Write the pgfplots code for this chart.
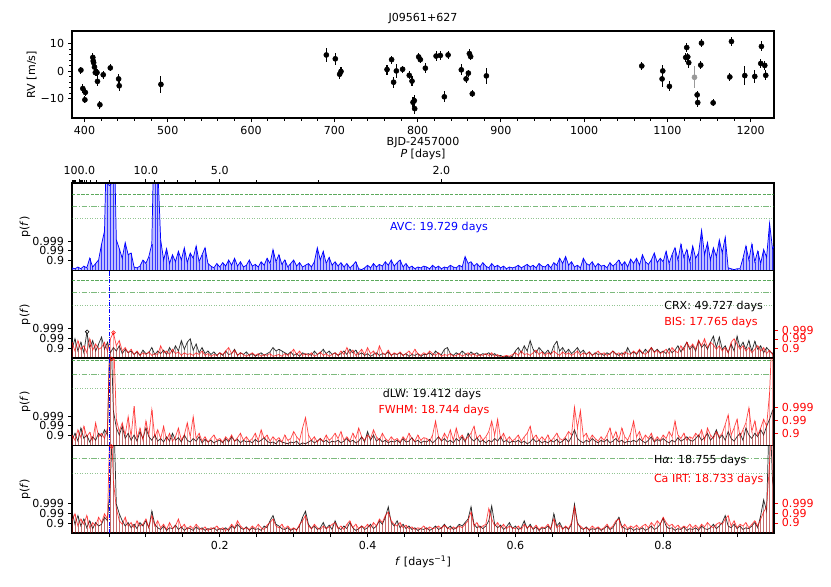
\documentclass[border=0pt]{standalone}
\usepackage{fontspec}
\setmainfont{DejaVu Sans}
\usepackage{pgfplots}
\usepackage{pgfplotstable}
\pgfplotsset{compat=1.18}
\definecolor{fapg}{rgb}{0.15,0.55,0.15}

\pgfplotstableread{
x y e
395.7 0.4 1.3
398.0 -6.3 1.5
401.0 -7.7 1.3
400.5 -10.4 1.3
410.0 5.0 1.5
410.5 3.7 1.3
411.0 3.1 1.3
412.0 1.5 1.3
413.0 -0.5 1.3
415.0 -0.5 1.3
415.6 -3.7 1.8
418.5 -12.2 1.5
422.5 -1.3 1.5
431.0 1.2 1.3
441.0 -2.8 1.8
441.7 -5.3 1.8
491.8 -4.8 3.2
690.4 5.9 2.5
701.2 4.5 2.2
706.4 -1.1 1.8
708.0 -0.1 1.5
763.3 0.6 1.8
768.8 4.2 1.5
771.2 -4.0 2.0
774.5 0.1 2.5
782.0 0.7 1.3
790.0 -1.5 1.5
793.3 -3.6 1.8
794.5 -11.3 1.8
796.0 -10.7 2.2
796.5 -13.6 2.0
801.3 5.2 1.5
803.3 4.2 1.3
809.3 1.1 1.8
822.2 5.5 1.8
827.3 5.7 1.5
832.1 -9.3 2.0
836.6 5.9 1.3
852.5 0.5 2.0
858.2 -2.8 1.5
861.0 -0.7 1.3
862.2 6.4 1.5
863.7 5.3 1.3
865.7 -8.2 1.3
882.6 -1.7 3.0
1069.2 1.9 1.5
1093.6 -2.8 3.0
1094.4 0.1 2.0
1102.4 -5.5 1.8
1122.0 5.0 1.5
1123.2 8.6 1.5
1124.4 5.2 1.5
1125.6 3.1 1.8
1135.7 -8.6 1.5
1136.4 -11.4 1.5
1140.0 2.2 1.5
1140.9 10.2 1.5
1154.9 -11.5 1.3
1174.9 -2.1 1.5
1176.9 10.8 1.8
1192.9 -1.6 3.5
1204.9 -1.9 2.5
1212.9 9.0 1.8
1212.1 2.8 1.5
1216.9 2.1 1.5
1218.1 -1.5 1.8
}\rv

\pgfplotstableread[header=false, row sep=\\]{
f 0 0.004 0.008 0.012 0.016 0.020 0.024 0.028 0.032 0.036
0.040 0.044 0.048 0.052 0.056 0.060 0.064 0.068 0.072 0.076
0.080 0.084 0.088 0.092 0.096 0.100 0.104 0.108 0.112 0.116
0.120 0.124 0.128 0.132 0.136 0.140 0.144 0.148 0.152 0.156
0.160 0.164 0.168 0.172 0.176 0.180 0.184 0.188 0.192 0.196
0.200 0.204 0.208 0.212 0.216 0.220 0.224 0.228 0.232 0.236
0.240 0.244 0.248 0.252 0.256 0.260 0.264 0.268 0.272 0.276
0.280 0.284 0.288 0.292 0.296 0.300 0.304 0.308 0.312 0.316
0.320 0.324 0.328 0.332 0.336 0.340 0.344 0.348 0.352 0.356
0.360 0.364 0.368 0.372 0.376 0.380 0.384 0.388 0.392 0.396
0.400 0.404 0.408 0.412 0.416 0.420 0.424 0.428 0.432 0.436
0.440 0.444 0.448 0.452 0.456 0.460 0.464 0.468 0.472 0.476
0.480 0.484 0.488 0.492 0.496 0.500 0.504 0.508 0.512 0.516
0.520 0.524 0.528 0.532 0.536 0.540 0.544 0.548 0.552 0.556
0.560 0.564 0.568 0.572 0.576 0.580 0.584 0.588 0.592 0.596
0.600 0.604 0.608 0.612 0.616 0.620 0.624 0.628 0.632 0.636
0.640 0.644 0.648 0.652 0.656 0.660 0.664 0.668 0.672 0.676
0.680 0.684 0.688 0.692 0.696 0.700 0.704 0.708 0.712 0.716
0.720 0.724 0.728 0.732 0.736 0.740 0.744 0.748 0.752 0.756
0.760 0.764 0.768 0.772 0.776 0.780 0.784 0.788 0.792 0.796
0.800 0.804 0.808 0.812 0.816 0.820 0.824 0.828 0.832 0.836
0.840 0.844 0.848 0.852 0.856 0.860 0.864 0.868 0.872 0.876
0.880 0.884 0.888 0.892 0.896 0.900 0.904 0.908 0.912 0.916
0.920 0.924 0.928 0.932 0.936 0.940 0.944 0.948 0.952 \\
avc 3 2 4 2 5 3 14 4 8 12
30 45 200 150 200 35 25 14 32 18
20 4 3 5 12 8 16 30 200 120
35 12 25 8 18 10 22 12 26 9
20 14 28 10 18 26 8 5 3 8
4 9 5 12 6 14 5 10 4 6
12 5 7 4 10 6 14 8 24 10
18 7 12 4 8 12 5 9 4 6
8 4 10 26 12 22 8 15 6 10
5 9 4 8 3 6 10 2 1 3
6 3 8 4 7 5 10 6 12 5
9 12 4 8 3 5 2 4 3 5
4 2 6 3 5 2 4 3 6 4
3 6 4 16 8 10 5 8 4 9
5 3 8 4 6 3 5 2 4 3
4 6 3 5 7 4 6 3 8 5
4 7 3 9 6 14 8 16 6 10
4 6 3 14 8 6 10 4 8 5
6 3 9 5 8 12 6 10 4 13
8 14 6 18 10 7 12 20 9 14
10 22 8 18 26 12 30 15 24 10
28 14 20 46 18 32 12 26 16 35
20 38 3 2 1 2 2 14 28 12
30 10 22 8 24 15 54 25 30 \\
crx 10 22 8 18 6 29 12 20 8 16
24 10 18 6 12 8 14 5 10 6
8 4 7 3 9 5 6 12 4 8
5 9 4 12 6 14 8 20 10 18
22 9 16 6 12 5 8 4 7 3
6 3 8 4 5 10 3 6 4 7
3 5 2 4 6 3 5 7 12 8
10 8 6 4 7 3 5 2 6 4
5 3 8 4 6 10 5 8 4 6
3 5 8 4 10 6 9 4 6 3
5 2 4 6 3 5 4 7 3 5
4 6 3 5 2 4 3 5 2 4
4 6 3 8 5 4 10 12 5 3
6 4 8 5 3 7 4 6 3 5
4 6 3 5 2 3 1 2 1 2
8 12 6 14 8 20 10 6 12 8
5 9 4 14 19 8 12 6 10 5
8 12 6 9 4 7 3 6 4 5
3 6 4 8 5 3 6 4 12 5
7 4 9 5 10 6 12 7 10 6
8 5 11 6 9 14 7 12 18 10
14 8 20 12 16 10 18 25 12 24
10 14 6 16 8 25 12 18 10 20
8 19 10 14 6 12 8 5 10 \\
bis 18 8 20 10 14 6 22 9 16 10
12 18 8 22 29 14 20 8 12 6
10 4 8 3 6 4 7 3 5 4
14 6 8 4 10 5 7 3 6 4
5 3 6 4 8 3 5 2 4 3
6 4 8 12 5 9 3 6 4 2
4 6 3 5 2 4 3 5 2 3
4 2 5 3 6 10 4 8 3 5
3 6 2 4 7 3 5 2 4 6
3 8 4 12 5 9 3 6 10 4
12 5 8 3 14 6 4 9 3 6
4 7 3 5 8 4 10 5 3 6
4 8 5 3 6 2 4 3 5 2
3 5 2 4 6 3 5 2 4 3
5 3 6 2 4 1 2 3 2 4
6 3 8 4 5 3 6 9 4 7
3 6 4 8 5 3 7 4 6 3
5 8 3 6 4 7 3 5 8 4
6 3 5 8 4 6 3 7 5 4
8 5 10 6 4 8 12 6 9 5
7 10 5 12 8 6 14 9 18 12
16 10 20 14 22 12 18 15 10 14
8 12 6 18 22 16 10 14 8 12
6 10 14 8 12 5 9 4 8 \\
dlw 6 14 5 20 8 12 4 10 6 14
10 18 12 150 40 20 12 22 8 14
6 12 5 16 8 20 10 6 12 5
8 4 10 5 14 6 9 4 12 6
4 8 5 10 3 7 4 6 3 5
6 3 8 4 10 5 7 3 6 4
5 3 7 4 6 9 5 3 4 2
6 4 3 2 4 3 5 1 3 2
4 6 3 5 8 4 6 3 5 4
6 3 5 8 4 6 3 5 10 4
16 6 12 5 8 4 6 3 5 4
6 3 8 4 5 9 4 6 3 5
4 7 3 6 10 5 8 4 6 3
8 5 10 4 14 8 5 9 4 6
3 6 4 8 5 10 4 6 3 5
4 6 3 5 2 4 8 4 6 3
5 3 6 4 7 3 5 8 4 10
18 8 5 3 6 4 8 5 3 6
4 7 3 5 8 4 6 3 5 4
6 4 8 5 3 6 10 4 7 5
8 5 3 6 4 9 5 7 10 6
5 8 12 6 9 14 6 10 18 8
12 6 16 8 5 10 14 6 20 12
8 14 10 18 12 22 30 40 45 \\
fwhm 12 6 18 9 22 10 15 6 26 10
14 8 20 150 130 30 16 26 12 33
10 45 8 20 6 28 12 41 10 18
8 22 6 14 5 10 20 6 12 26
10 33 8 14 5 10 4 8 12 6
8 4 10 6 12 5 9 14 6 10
5 8 14 6 18 8 12 5 10 6
9 4 12 6 8 16 10 6 20 32
12 6 10 4 8 5 12 6 9 14
8 16 6 10 5 14 8 20 10 6
12 8 18 10 6 14 8 5 10 6
8 4 10 6 14 8 5 12 6 9
8 5 12 28 10 6 14 8 18 6
20 8 12 6 10 14 22 8 12 6
10 16 28 12 30 8 14 6 10 5
8 12 5 10 14 22 8 12 6 10
6 12 5 9 14 8 6 10 16 12
44 20 40 10 14 6 12 8 5 10
6 12 20 8 16 6 20 10 6 14
28 10 16 6 12 8 14 5 10 6
12 8 16 10 28 12 8 14 6 10
8 14 10 18 6 20 12 8 16 10
14 24 35 12 20 30 10 18 26 43
16 28 12 20 30 22 60 140 150 \\
ha 25 10 20 8 16 6 14 5 12 8
10 18 14 60 150 33 22 14 8 12
6 10 5 12 8 14 6 25 10 6
4 8 3 6 5 9 4 7 3 6
5 3 7 4 6 3 5 4 6 3
5 4 6 3 8 5 10 6 4 7
3 6 4 5 3 8 6 14 20 10
8 5 4 6 3 5 4 8 18 25
10 5 8 4 6 12 5 9 4 14
6 4 8 5 12 6 3 5 8 4
6 10 5 8 14 10 18 30 12 8
14 6 10 5 8 4 6 3 5 4
6 3 5 8 4 6 10 5 8 4
6 10 8 12 16 30 10 6 8 5
8 14 31 10 6 9 4 7 12 5
8 4 6 14 5 10 4 7 3 6
5 8 4 22 8 12 5 7 4 10
33 12 6 4 7 3 5 4 6 3
5 8 4 6 12 18 8 5 4 6
3 5 4 6 3 5 8 4 6 10
17 8 5 6 3 5 4 7 3 5
4 6 3 8 5 4 6 10 5 8
12 20 8 6 10 5 8 4 6 5
8 12 6 20 38 25 150 60 40 \\
ca 14 22 8 16 10 20 6 12 8 18
12 22 16 150 60 28 14 10 18 8
12 6 14 8 10 16 6 20 8 14
6 10 4 12 5 8 16 6 10 4
8 5 10 6 4 7 3 6 5 8
4 6 3 5 10 6 14 8 5 6
4 8 5 10 6 4 9 12 16 8
6 10 5 8 4 6 3 10 14 20
8 5 10 6 4 8 5 7 10 12
5 8 4 10 14 6 10 5 8 6
10 6 12 8 16 12 20 24 14 10
8 12 6 9 5 7 4 6 5 8
4 7 5 6 8 5 9 6 4 7
5 8 6 10 14 24 8 12 6 8
10 28 16 8 12 6 10 5 8 6
5 8 4 10 6 8 5 9 4 7
6 10 5 16 6 9 4 8 5 12
30 10 8 5 6 4 8 5 7 4
6 10 5 8 14 16 6 10 5 8
6 9 5 8 10 6 12 8 14 10
18 12 8 10 6 9 5 8 6 10
6 9 5 10 7 12 8 6 10 12
10 16 20 8 14 6 10 8 12 6
10 14 8 16 24 30 80 150 150 \\
}\raw
\pgfplotstabletranspose[colnames from=0]\pg\raw

\pgfplotsset{
  /pgf/number format/assume math mode=true,
  every tick label/.append style={font=\fontsize{8.3}{10}\selectfont},
  base/.style={scale only axis, anchor=north west, width=526.5pt,
    axis line style={line width=0.8pt}, tick style={line width=0.6pt, black},
    tick align=outside, major tick length=3pt, minor tick length=2pt},
  pgram/.style={base, height=65.625pt, xmin=0, xmax=0.95, ymin=0, ymax=100,
    ytick={11,22.5,33.5}, yticklabels={0.9,0.99,0.999}, ytick pos=left,
    xtick=\empty, clip=true},
  rax/.style={base, height=65.625pt, xmin=0, xmax=0.95, ymin=0, ymax=100,
    axis y line*=right, axis x line=none, yticklabels={0.9,0.99,0.999},
    yticklabel style={red}, y tick style={red, line width=0.6pt}},
  gdash/.style={draw=fapg, opacity=0.75, line width=0.6pt, dash pattern=on 2.4pt off 1.1pt},
  gdd/.style={draw=fapg, opacity=0.6, line width=0.6pt, dash pattern=on 4pt off 1.2pt on 0.8pt off 1.2pt},
  gdot/.style={draw=fapg, opacity=0.5, line width=0.6pt, dash pattern=on 0.7pt off 1.2pt},
  vline/.style={blue, line width=0.5pt, dash pattern=on 3pt off 1pt on 0.6pt off 1pt},
  comb/.style={ycomb, line width=0.35pt},
}

\begin{document}
\fontsize{8.3}{10}\selectfont
\begin{tikzpicture}[font=\fontsize{8.3}{10}\selectfont]
\useasboundingbox (0,0) rectangle (623.25pt,-439.5pt);

% ---------- RV panel ----------
\begin{axis}[base, at={(54pt,-23.25pt)}, height=65.25pt,
  xmin=385, xmax=1228, ymin=-17, ymax=14.6,
  xtick={400,500,...,1200}, xticklabels={400,500,600,700,800,900,1000,1100,1200},
  minor x tick num=4,
  ytick={-10,0,10}, yticklabels={−10,0,10}, minor y tick num=4,
  xtick pos=bottom, ytick pos=left]
\addplot[only marks, mark=*, mark size=1.9pt, black,
  error bars/.cd, y dir=both, y explicit, error mark=none,
  error bar style={line width=0.8pt, black}]
  table[x=x, y=y, y error=e]{\rv};
\addplot[only marks, mark=*, mark size=1.9pt, gray!80,
  error bars/.cd, y dir=both, y explicit, error mark=none,
  error bar style={line width=0.8pt, gray!80}]
  coordinates {(1132.5,-2.2) +- (0,4.0)};
\end{axis}

% ---------- panel 1: AVC ----------
\begin{axis}[pgram, at={(54pt,-137.25pt)}]
\addplot[gdash] coordinates {(0,87.5) (0.95,87.5)};
\addplot[gdd] coordinates {(0,73.5) (0.95,73.5)};
\addplot[gdot] coordinates {(0,60) (0.95,60)};
\addplot[draw=none, fill=blue, fill opacity=0.25] table[x=f, y=avc]{\pg} \closedcycle;
\addplot[blue, comb, opacity=0.7] table[x=f, y=avc]{\pg};
\addplot[blue, line width=0.55pt] table[x=f, y=avc]{\pg};
\addplot[only marks, mark=o, mark size=1.4pt, blue] coordinates {(0.0507,99)};
\end{axis}
% top period axis
\begin{axis}[base, at={(54pt,-137.25pt)}, height=65.625pt, xmin=0, xmax=0.95, ymin=0, ymax=100,
  axis x line*=top, axis y line=none,
  xtick={0.01,0.1,0.2,0.5}, xticklabels={100.0,10.0,5.0,2.0},
  minor xtick={0.00111,0.00125,0.00143,0.00167,0.002,0.0025,0.00333,0.005,0.0111,0.0125,0.0143,0.0167,0.02,0.025,0.0333,0.05,0.1111,0.125,0.1429,0.1667,0.25,0.3333}]
\addplot[draw=none] coordinates {(0.5,50)};
\end{axis}

% ---------- panel 2: CRX / BIS ----------
\begin{axis}[pgram, at={(54pt,-202.875pt)}]
\addplot[gdash] coordinates {(0,88.5) (0.95,88.5)};
\addplot[gdd] coordinates {(0,75) (0.95,75)};
\addplot[gdot] coordinates {(0,60) (0.95,60)};
\addplot[black, comb, opacity=0.35] table[x=f, y=crx]{\pg};
\addplot[black, line width=0.55pt, opacity=0.8] table[x=f, y=crx]{\pg};
\addplot[red, comb, opacity=0.35] table[x=f, y=bis]{\pg};
\addplot[red, line width=0.55pt, opacity=0.7] table[x=f, y=bis]{\pg};
\addplot[vline] coordinates {(0.0507,0) (0.0507,100)};
\addplot[only marks, mark=o, mark size=1.4pt, black] coordinates {(0.0205,30)};
\addplot[only marks, mark=o, mark size=1.4pt, red] coordinates {(0.0563,29)};
\end{axis}
\begin{axis}[rax, at={(54pt,-202.875pt)}, ytick={11,21.8,31.7}]
\addplot[draw=none] coordinates {(0.5,50)};
\end{axis}

% ---------- panel 3: dLW / FWHM ----------
\begin{axis}[pgram, at={(54pt,-268.5pt)}]
\addplot[gdash] coordinates {(0,97.3) (0.95,97.3)};
\addplot[gdd] coordinates {(0,81.7) (0.95,81.7)};
\addplot[gdot] coordinates {(0,65.8) (0.95,65.8)};
\addplot[black, comb, opacity=0.35] table[x=f, y=dlw]{\pg};
\addplot[black, line width=0.55pt, opacity=0.8] table[x=f, y=dlw]{\pg};
\addplot[red, comb, opacity=0.35] table[x=f, y=fwhm]{\pg};
\addplot[red, line width=0.55pt, opacity=0.7] table[x=f, y=fwhm]{\pg};
\addplot[vline] coordinates {(0.0507,0) (0.0507,100)};
\addplot[only marks, mark=o, mark size=1.4pt, red] coordinates {(0.0534,99)};
\end{axis}
\begin{axis}[rax, at={(54pt,-268.5pt)}, ytick={14,28.5,43}]
\addplot[draw=none] coordinates {(0.5,50)};
\end{axis}

% ---------- panel 4: Halpha / Ca IRT ----------
\begin{axis}[pgram, at={(54pt,-334.125pt)},
  xtick={0.2,0.4,0.6,0.8}, xticklabels={0.2,0.4,0.6,0.8}, xtick pos=bottom,
  minor xtick={0.05,0.1,0.15,0.25,0.3,0.35,0.45,0.5,0.55,0.65,0.7,0.75,0.85,0.9},
  minor tick length=3pt]
\addplot[gdd] coordinates {(0,85.4) (0.95,85.4)};
\addplot[gdot] coordinates {(0,68.3) (0.95,68.3)};
\addplot[black, comb, opacity=0.35] table[x=f, y=ha]{\pg};
\addplot[black, line width=0.55pt, opacity=0.8] table[x=f, y=ha]{\pg};
\addplot[red, comb, opacity=0.35] table[x=f, y=ca]{\pg};
\addplot[red, line width=0.55pt, opacity=0.7] table[x=f, y=ca]{\pg};
\addplot[vline] coordinates {(0.0507,0) (0.0507,100)};
\addplot[only marks, mark=o, mark size=1.4pt, red] coordinates {(0.0533,99)};
\end{axis}
\begin{axis}[rax, at={(54pt,-334.125pt)}, ytick={11.5,22.9,33.9}]
\addplot[draw=none] coordinates {(0.5,50)};
\end{axis}

% ---------- texts ----------
\node at (317.25pt,-13.5pt) {J09561+627};
\node at (317.25pt,-106.5pt) {BJD-2457000};
\node at (317.25pt,-115.5pt) {\textit{P} [days]};
\node[rotate=90] at (23.75pt,-56pt) {RV [m/s]};
\node[rotate=90] at (18.75pt,-170.25pt) {p(\textit{f})};
\node[rotate=90] at (18.75pt,-235.9pt) {p(\textit{f})};
\node[rotate=90] at (18.75pt,-301.5pt) {p(\textit{f})};
\node[rotate=90] at (18.75pt,-367.1pt) {p(\textit{f})};
\node at (317.25pt,-421.5pt) {\textit{f} [days\textsuperscript{−1}]};
\node[blue] at (329.25pt,-170.25pt) {AVC: 19.729 days};
\node[anchor=west, inner sep=0pt] at (498pt,-229.5pt) {CRX: 49.727 days};
\node[anchor=west, inner sep=0pt, red] at (498pt,-241.5pt) {BIS: 17.765 days};
\node at (324pt,-295.5pt) {dLW: 19.412 days};
\node[red] at (325.5pt,-307.5pt) {FWHM: 18.744 days};
\node[anchor=west, inner sep=0pt] at (490.3pt,-345.5pt) {H\textit{α}: 18.755 days};
\node[anchor=west, inner sep=0pt, red] at (490.3pt,-359.25pt) {Ca IRT: 18.733 days};
\end{tikzpicture}
\end{document}
